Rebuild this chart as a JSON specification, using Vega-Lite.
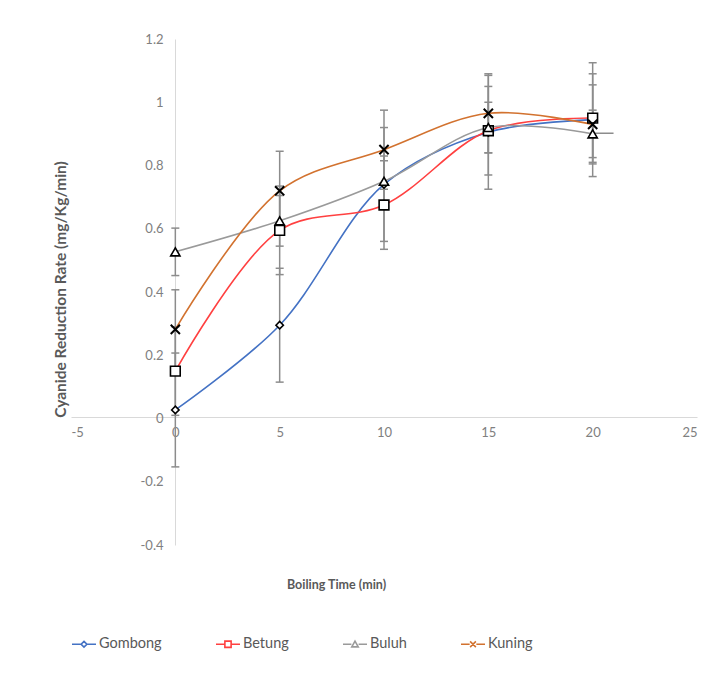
{
  "$schema": "https://vega.github.io/schema/vega-lite/v6.json",
  "width": 626,
  "height": 506,
  "autosize": "none",
  "padding": {"left": 71, "top": 39, "right": 11, "bottom": 134},
  "background": "white",
  "config": {"view": {"stroke": null}, "font": "Lato"},
  "datasets": {
    "pts": [
      {"series": "Gombong", "t": 0, "rate": 0.027, "lo": -0.153, "hi": 0.207},
      {"series": "Gombong", "t": 5, "rate": 0.295, "lo": 0.115, "hi": 0.475},
      {"series": "Gombong", "t": 10, "rate": 0.74, "lo": 0.56, "hi": 0.92},
      {"series": "Gombong", "t": 15, "rate": 0.905, "lo": 0.725, "hi": 1.085},
      {"series": "Gombong", "t": 20, "rate": 0.945, "lo": 0.765, "hi": 1.125},
      {"series": "Betung", "t": 0, "rate": 0.15, "lo": 0.01, "hi": 0.29},
      {"series": "Betung", "t": 5, "rate": 0.595, "lo": 0.455, "hi": 0.735},
      {"series": "Betung", "t": 10, "rate": 0.675, "lo": 0.535, "hi": 0.815},
      {"series": "Betung", "t": 15, "rate": 0.91, "lo": 0.77, "hi": 1.05},
      {"series": "Betung", "t": 20, "rate": 0.95, "lo": 0.81, "hi": 1.09},
      {"series": "Buluh", "t": 0, "rate": 0.527, "lo": 0.452, "hi": 0.602},
      {"series": "Buluh", "t": 5, "rate": 0.625, "lo": 0.545, "hi": 0.705},
      {"series": "Buluh", "t": 10, "rate": 0.75, "lo": 0.67, "hi": 0.83},
      {"series": "Buluh", "t": 15, "rate": 0.92, "lo": 0.84, "hi": 1.0},
      {"series": "Buluh", "t": 20, "rate": 0.9, "lo": 0.825, "hi": 0.975},
      {"series": "Kuning", "t": 0, "rate": 0.282, "lo": 0.157, "hi": 0.407},
      {"series": "Kuning", "t": 5, "rate": 0.72, "lo": 0.595, "hi": 0.845},
      {"series": "Kuning", "t": 10, "rate": 0.85, "lo": 0.725, "hi": 0.975},
      {"series": "Kuning", "t": 15, "rate": 0.965, "lo": 0.84, "hi": 1.09},
      {"series": "Kuning", "t": 20, "rate": 0.93, "lo": 0.805, "hi": 1.055}
    ],
    "xerr": [
      {"series": "Buluh", "t": 20, "t2": 21, "rate": 0.902}
    ]
  },
  "data": {"name": "pts"},
  "encoding": {
    "x": {
      "field": "t",
      "type": "quantitative",
      "title": "Boiling Time (min)",
      "scale": {"domain": [-5, 25], "nice": false, "zero": false},
      "axis": {
        "values": [-5, 0, 5, 10, 15, 20, 25],
        "offset": -128,
        "grid": false,
        "ticks": false,
        "domainColor": "#D9D9D9",
        "domainWidth": 1,
        "labelFont": "Lato",
        "labelFontSize": 13,
        "labelColor": "#808080",
        "labelPadding": 9,
        "labelExpr": "replace(format(datum.value, '~g'), '\u2212', '-')",
        "titleFont": "Lato",
        "titleFontSize": 12.5,
        "titleFontWeight": "bold",
        "titleColor": "#595959",
        "titleX": 265,
        "titleY": 167,
        "titleAlign": "center",
        "titleBaseline": "middle"
      }
    },
    "y": {
      "field": "rate",
      "type": "quantitative",
      "title": "Cyanide Reduction Rate (mg/Kg/min)",
      "scale": {"domain": [-0.4, 1.2], "nice": false, "zero": false},
      "axis": {
        "values": [-0.4, -0.2, 0, 0.2, 0.4, 0.6, 0.8, 1, 1.2],
        "offset": -104,
        "grid": false,
        "ticks": false,
        "domainColor": "#D9D9D9",
        "domainWidth": 1,
        "labelFont": "Lato",
        "labelFontSize": 13,
        "labelColor": "#808080",
        "labelPadding": 12,
        "labelExpr": "replace(format(datum.value, '~g'), '\u2212', '-')",
        "titleFont": "Lato",
        "titleFontSize": 15.5,
        "titleFontWeight": "bold",
        "titleColor": "#595959",
        "titleX": -115,
        "titleY": 250,
        "titleAngle": -90,
        "titleAlign": "center",
        "titleBaseline": "middle"
      }
    }
  },
  "layer": [
    {
      "mark": {"type": "rule", "color": "#8C8C8C", "strokeWidth": 1.5},
      "encoding": {
        "y": {"field": "lo", "type": "quantitative", "title": "Cyanide Reduction Rate (mg/Kg/min)"},
        "y2": {"field": "hi"}
      }
    },
    {
      "mark": {"type": "tick", "orient": "horizontal", "color": "#8C8C8C", "size": 8, "thickness": 1.5, "opacity": 1},
      "encoding": {
        "y": {"field": "lo", "type": "quantitative", "title": "Cyanide Reduction Rate (mg/Kg/min)"}
      }
    },
    {
      "mark": {"type": "tick", "orient": "horizontal", "color": "#8C8C8C", "size": 8, "thickness": 1.5, "opacity": 1},
      "encoding": {
        "y": {"field": "hi", "type": "quantitative", "title": "Cyanide Reduction Rate (mg/Kg/min)"}
      }
    },
    {
      "data": {"name": "xerr"},
      "mark": {"type": "rule", "color": "#8C8C8C", "strokeWidth": 1.5},
      "encoding": {
        "x2": {"field": "t2"}
      }
    },
    {
      "mark": {"type": "line", "interpolate": "catmull-rom", "strokeWidth": 1.6},
      "encoding": {
        "color": {
          "field": "series",
          "type": "nominal",
          "scale": {
            "domain": ["Gombong", "Betung", "Buluh", "Kuning"],
            "range": ["#4472C4", "#FF4040", "#9A9A9A", "#D2722F"]
          },
          "legend": {
            "title": null,
            "orient": "bottom",
            "direction": "horizontal",
            "offset": 40,
            "symbolSize": 576,
            "symbolStrokeWidth": 1.6,
            "labelFont": "Lato",
            "labelFontSize": 14.5,
            "labelColor": "#595959",
            "labelOffset": 2,
            "columnPadding": 50,
            "encode": {
              "symbols": {
                "update": {
                  "shape": {"signal": "datum.value === 'Gombong' ? 'M-1,0L-0.28,0M0,-0.24L0.24,0L0,0.24L-0.24,0ZM0.28,0L1,0' : datum.value === 'Betung' ? 'M-1,0L-0.3,0M-0.26,-0.26L0.26,-0.26L0.26,0.26L-0.26,0.26ZM0.3,0L1,0' : datum.value === 'Buluh' ? 'M-1,0L-0.3,0M0,-0.26L0.27,0.22L-0.27,0.22ZM0.3,0L1,0' : 'M-1,0L-0.28,0M-0.24,-0.24L0.24,0.24M0.24,-0.24L-0.24,0.24M0.28,0L1,0'"},
                  "fill": {"value": "white"},
                  "size": {"value": 576},
                  "strokeWidth": {"value": 1.6},
                  "opacity": {"value": 1}
                }
              }
            }
          }
        }
      }
    },
    {
      "transform": [{"filter": "datum.series === 'Gombong'"}],
      "mark": {"type": "point", "shape": "diamond", "size": 55, "filled": true, "fill": "white", "stroke": "black", "strokeWidth": 1.6, "opacity": 1}
    },
    {
      "transform": [{"filter": "datum.series === 'Betung'"}],
      "mark": {"type": "point", "shape": "square", "size": 95, "filled": true, "fill": "white", "stroke": "black", "strokeWidth": 1.6, "opacity": 1}
    },
    {
      "transform": [{"filter": "datum.series === 'Buluh'"}],
      "mark": {"type": "point", "shape": "triangle-up", "size": 85, "filled": true, "fill": "white", "stroke": "black", "strokeWidth": 1.6, "opacity": 1}
    },
    {
      "transform": [{"filter": "datum.series === 'Kuning'"}],
      "mark": {"type": "point", "shape": "M-1,-1L1,1M1,-1L-1,1", "size": 85, "filled": false, "stroke": "black", "strokeWidth": 2, "opacity": 1}
    }
  ]
}
